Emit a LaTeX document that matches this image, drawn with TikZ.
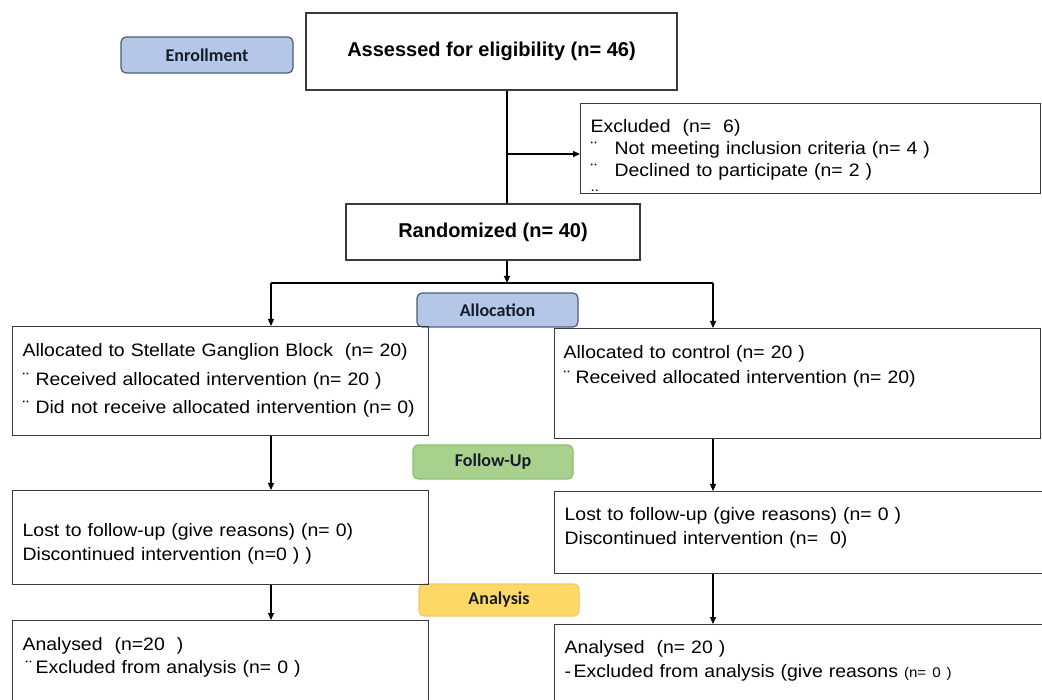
\documentclass[tikz,border=0pt]{standalone}
\usepackage{fontspec}
\setmainfont{Liberation Sans}
\newfontfamily\boxfont{Liberation Sans}[FakeStretch=1.08]
\newfontfamily\tagfont{Carlito}
\usetikzlibrary{arrows.meta,calc}
\definecolor{boxline}{HTML}{3A3A3A}
\definecolor{tagtext}{HTML}{161C2B}
\definecolor{tagblue}{HTML}{B4C7E7}
\definecolor{tagblueline}{HTML}{4F5B73}
\definecolor{taggreen}{HTML}{A9D18E}
\definecolor{taggreenline}{HTML}{8DBE73}
\definecolor{tagyellow}{HTML}{FFD966}
\definecolor{tagyellowline}{HTML}{F3C46A}

\begin{document}
\begin{tikzpicture}[x=1pt,y=-1pt,>={Triangle[length=7pt,width=6pt]}]
  \tikzset{
    box/.style={
      draw=boxline, line width=1.3pt, anchor=north west,
      inner xsep=10pt, inner ysep=0pt, align=left
    },
    linegap/.style={font=\boxfont\fontsize{18}{#1}\selectfont},
    headbox/.style={
      draw=boxline, line width=1.3pt,
      font=\bfseries\fontsize{20}{24}\selectfont
    },
    stage/.style={
      rounded corners=5pt, line width=1.2pt, text=tagtext,
      font=\tagfont\bfseries\fontsize{18}{20}\selectfont
    },
    link/.style={line width=1.2pt, draw=black},
  }

  \useasboundingbox (0,0) rectangle (1042,700);
  \clip (0,0) rectangle (1042,700);

  % stage tags
  \node[stage, fill=tagblue, draw=tagblueline, minimum width=172pt, minimum height=36pt] (enrol) at (207,55) {Enrollment};
  \node[stage, fill=tagblue, draw=tagblueline, minimum width=161pt, minimum height=34pt] (alloc) at (497.5,310) {Allocation};
  \node[stage, fill=taggreen, draw=taggreenline, minimum width=160pt, minimum height=34pt] (follow) at (493,462) {Follow-Up};
  \node[stage, fill=tagyellow, draw=tagyellowline, minimum width=160pt, minimum height=32pt] (analys) at (499,600) {Analysis};

  % enrollment
  \node[headbox, minimum width=371pt, minimum height=77pt] (assess) at (491.5,51.5) {Assessed for eligibility (n= 46)};
  \node[headbox, minimum width=294pt, minimum height=56pt] (rand) at (493,232) {Randomized (n= 40)};
  \node[box, linegap=22, text width=440pt, text height=29pt, text depth=61pt] (excl) at (580,103)
    {Excluded\ \ (n=\ \ 6)\\
     \makebox[24pt][l]{¨}Not meeting inclusion criteria (n= 4 )\\
     \makebox[24pt][l]{¨}Declined to participate (n= 2 )\\[-7pt]
     {\fontsize{14}{14}\selectfont ..}};

  % allocation
  \node[box, linegap=28.5, text width=396pt, text height=30pt, text depth=79pt] (alloc-l) at (12,326)
    {Allocated to Stellate Ganglion Block\ \ (n= 20)\\
     \makebox[13pt][l]{¨}Received allocated intervention (n= 20 )\\
     \makebox[13pt][l]{¨}Did not receive allocated intervention (n= 0)};
  \node[box, inner xsep=9pt, linegap=25, text width=468pt, text height=30pt, text depth=80pt] (alloc-r) at (554,328)
    {Allocated to control (n= 20 )\\
     \makebox[12pt][l]{¨}Received allocated intervention (n= 20)};

  % follow-up
  \node[box, linegap=24, text width=396pt, text height=46pt, text depth=48pt] (fu-l) at (12,490)
    {Lost to follow-up (give reasons) (n= 0)\\
     Discontinued intervention (n=0 ) )};
  \node[box, linegap=24, text width=492pt, text height=29pt, text depth=53pt] (fu-r) at (554,491)
    {Lost to follow-up (give reasons) (n= 0 )\\
     Discontinued intervention (n=\ \ 0)};

  % analysis
  \node[box, linegap=23, text width=396pt, text height=30pt, text depth=70pt] (an-l) at (12,620)
    {Analysed\ \ (n=20\ \ )\\
     \hspace*{3pt}\makebox[10pt][l]{¨}Excluded from analysis (n= 0 )};
  \node[box, linegap=24, text width=492pt, text height=29pt, text depth=67pt] (an-r) at (554,624)
    {Analysed\ \ (n= 20 )\\
     \makebox[9pt][l]{-}Excluded from analysis (give reasons {\fontsize{14}{14}\selectfont(n= 0 )}};

  % connectors
  \coordinate (spine) at (507,154);
  \coordinate (split-l) at (271,283);
  \coordinate (split-r) at (713,283);
  \draw[link] (assess.south -| spine) -- (rand.north -| spine);
  \draw[link,->] (spine) -- (excl.west |- spine);
  \draw[link,->] (rand.south -| spine) -- (spine |- split-l);
  \draw[link] (split-l) -- (split-r);
  \draw[link,->] (split-l) -- (alloc-l.north -| split-l);
  \draw[link,->] (split-r) -- (alloc-r.north -| split-r);
  \draw[link,->] (alloc-l.south -| split-l) -- (fu-l.north -| split-l);
  \draw[link,->] (alloc-r.south -| split-r) -- (fu-r.north -| split-r);
  \draw[link,->] (fu-l.south -| split-l) -- (an-l.north -| split-l);
  \draw[link,->] (fu-r.south -| split-r) -- (an-r.north -| split-r);

\end{tikzpicture}
\end{document}
